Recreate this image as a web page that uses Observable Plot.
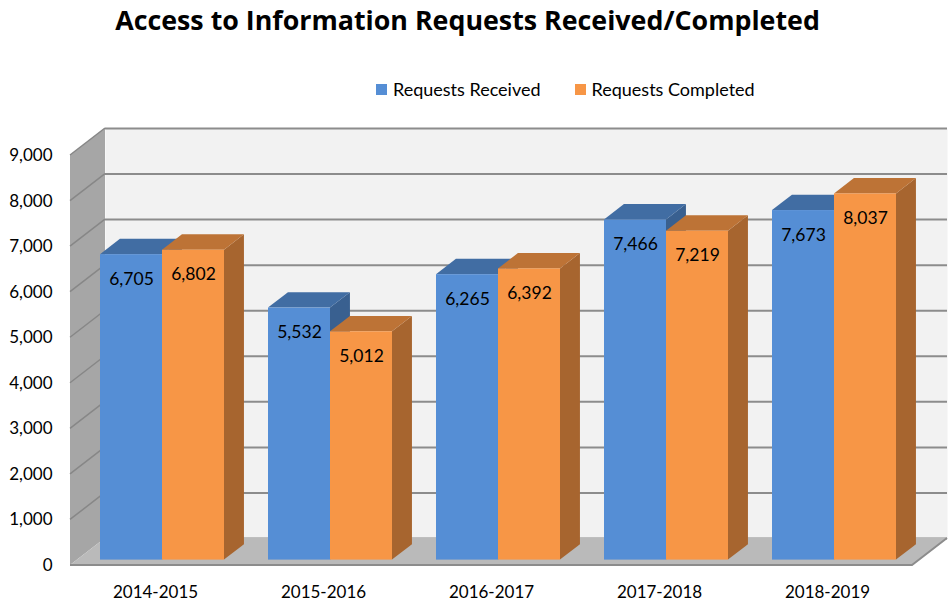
<!DOCTYPE html>
<html>
<head>
<meta charset="utf-8">
<script src="https://cdn.jsdelivr.net/npm/d3@7"></script>
<script src="https://cdn.jsdelivr.net/npm/@observablehq/plot@0.6"></script>
<style>
  body { margin: 0; background: #fff; font-family: Lato, sans-serif; }
  #title { height: 60px; line-height: 40px; text-align: center; font-family: "Open Sans", sans-serif; font-weight: 700; font-size: 26.8px; color: #000; padding-right: 17px; box-sizing: border-box; white-space: nowrap; }
  #legend { height: 50px; display: flex; padding-left: 376px; box-sizing: border-box; }
  #legend .item { display: flex; align-items: center; margin-top: 20px; height: 18px; margin-right: 34px; font-size: 18px; color: #000; }
  #legend .swatch { width: 11px; height: 11px; margin-right: 6px; }
  #chart svg { display: block; }
</style>
</head>
<body>
<div id="title">Access to Information Requests Received/Completed</div>
<div id="legend"></div>
<div id="chart"></div>
<script>
// Fiscal years and request counts
const years = ["2014-2015", "2015-2016", "2016-2017", "2017-2018", "2018-2019"];
const received = [6705, 5532, 6265, 7466, 7673];
const completed = [6802, 5012, 6392, 7219, 8037];
const seriesNames = ["Requests Received", "Requests Completed"];
const seriesColors = ["#558ed5", "#f79646"];
const yTicks = [0, 1000, 2000, 3000, 4000, 5000, 6000, 7000, 8000, 9000];

const rows = years.flatMap((year, i) => [
  {year, series: seriesNames[0], value: received[i]},
  {year, series: seriesNames[1], value: completed[i]}
]);

// Oblique projection of the depth axis (pixels from front plane to back wall)
const depth = {dx: 35, dy: -27};
const barFront = 0.2, barBack = 0.77;
const fmt = d3.format(",");

const poly = (pts) => "M" + pts.map(p => p.join(",")).join("L") + "Z";

// Left side wall, its grid lines and the floor
function wallsAndFloor(index, scales, values, dims) {
  const g = d3.create("svg:g");
  const y = scales.y;
  const x0 = dims.marginLeft, x1 = dims.width - dims.marginRight;
  const y0 = y(0), yTop = y(d3.max(yTicks));
  const {dx, dy} = depth;
  g.append("path").attr("d", poly([[x0, y0], [x0, yTop], [x0 + dx, yTop + dy], [x0 + dx, y0 + dy]]))
    .attr("fill", "#a6a6a6");
  for (const i of index) {
    const t = yTicks[i];
    if (t === 0) continue;
    g.append("line").attr("x1", x0).attr("y1", y(t)).attr("x2", x0 + dx).attr("y2", y(t) + dy)
      .attr("stroke", "#878787").attr("stroke-width", 1.5);
  }
  g.append("path").attr("d", poly([[x0, y0], [x1, y0], [x1 + dx, y0 + dy], [x0 + dx, y0 + dy]]))
    .attr("fill", "#bababa");
  g.append("path").attr("d", `M${x0},${y0}L${x1},${y0}L${x1 + dx},${y0 + dy}`)
    .attr("fill", "none").attr("stroke", "#8c8c8c").attr("stroke-width", 2);
  return g.node();
}

// Extruded bars: front face, top face and right side face
function bars3d(index, scales, values, dims) {
  const g = d3.create("svg:g");
  const x = scales.x, y = scales.y;
  const half = x.bandwidth() / 2;
  const fx = depth.dx * barFront, fy = depth.dy * barFront;
  const ddx = depth.dx * (barBack - barFront), ddy = depth.dy * (barBack - barFront);
  for (const i of index) {
    const d = rows[i];
    const s = seriesNames.indexOf(d.series);
    const base = d3.color(scales.color(d.series));
    const left = x(d.year) + s * half + fx, right = left + half;
    const top = y(d.value) + fy, bottom = y(0) + fy;
    g.append("path").attr("d", poly([[right, top], [right + ddx, top + ddy], [right + ddx, bottom + ddy], [right, bottom]]))
      .attr("fill", base.darker(1.1).formatHex());
    g.append("path").attr("d", poly([[left, top], [left + ddx, top + ddy], [right + ddx, top + ddy], [right, top]]))
      .attr("fill", base.darker(0.75).formatHex());
    g.append("rect").attr("x", left).attr("y", top).attr("width", half).attr("height", bottom - top)
      .attr("fill", base.formatHex());
  }
  return g.node();
}

// Legend
const legend = d3.select("#legend");
seriesNames.forEach((name, i) => {
  const item = legend.append("div").attr("class", "item");
  item.append("div").attr("class", "swatch").style("background", seriesColors[i]);
  item.append("span").text(name);
});

const chart = Plot.plot({
  width: 952,
  height: 496,
  marginLeft: 70,
  marginRight: 40,
  marginTop: 45,
  marginBottom: 41,
  style: {fontFamily: "Lato, sans-serif", fontSize: "17px", color: "#000", background: "#fff"},
  x: {domain: years, paddingInner: 0.262, paddingOuter: 0.131, tickSize: 0, tickPadding: 20, label: null},
  y: {domain: [0, 9000], ticks: yTicks, tickFormat: fmt, tickSize: 0, tickPadding: 18, label: null},
  color: {domain: seriesNames, range: seriesColors},
  marks: [
    Plot.frame({fill: "#f2f2f2", dx: depth.dx, dy: depth.dy}),
    Plot.ruleY(yTicks, {stroke: "#8c8c8c", strokeWidth: 2, strokeOpacity: 1, dx: depth.dx, dy: depth.dy}),
    Plot.ruleY(yTicks, {y: d => d, render: wallsAndFloor}),
    Plot.barY(rows, {x: "year", y1: 0, y2: "value", fill: "series", render: bars3d}),
    Plot.text(rows.filter(d => d.series === seriesNames[0]), {
      x: "year", y: "value", text: d => fmt(d.value), dx: -24, dy: 19, fill: "#000", fontSize: 17.5
    }),
    Plot.text(rows.filter(d => d.series === seriesNames[1]), {
      x: "year", y: "value", text: d => fmt(d.value), dx: 38, dy: 19, fill: "#000", fontSize: 17.5
    })
  ]
});
document.getElementById("chart").append(chart);
</script>
</body>
</html>
